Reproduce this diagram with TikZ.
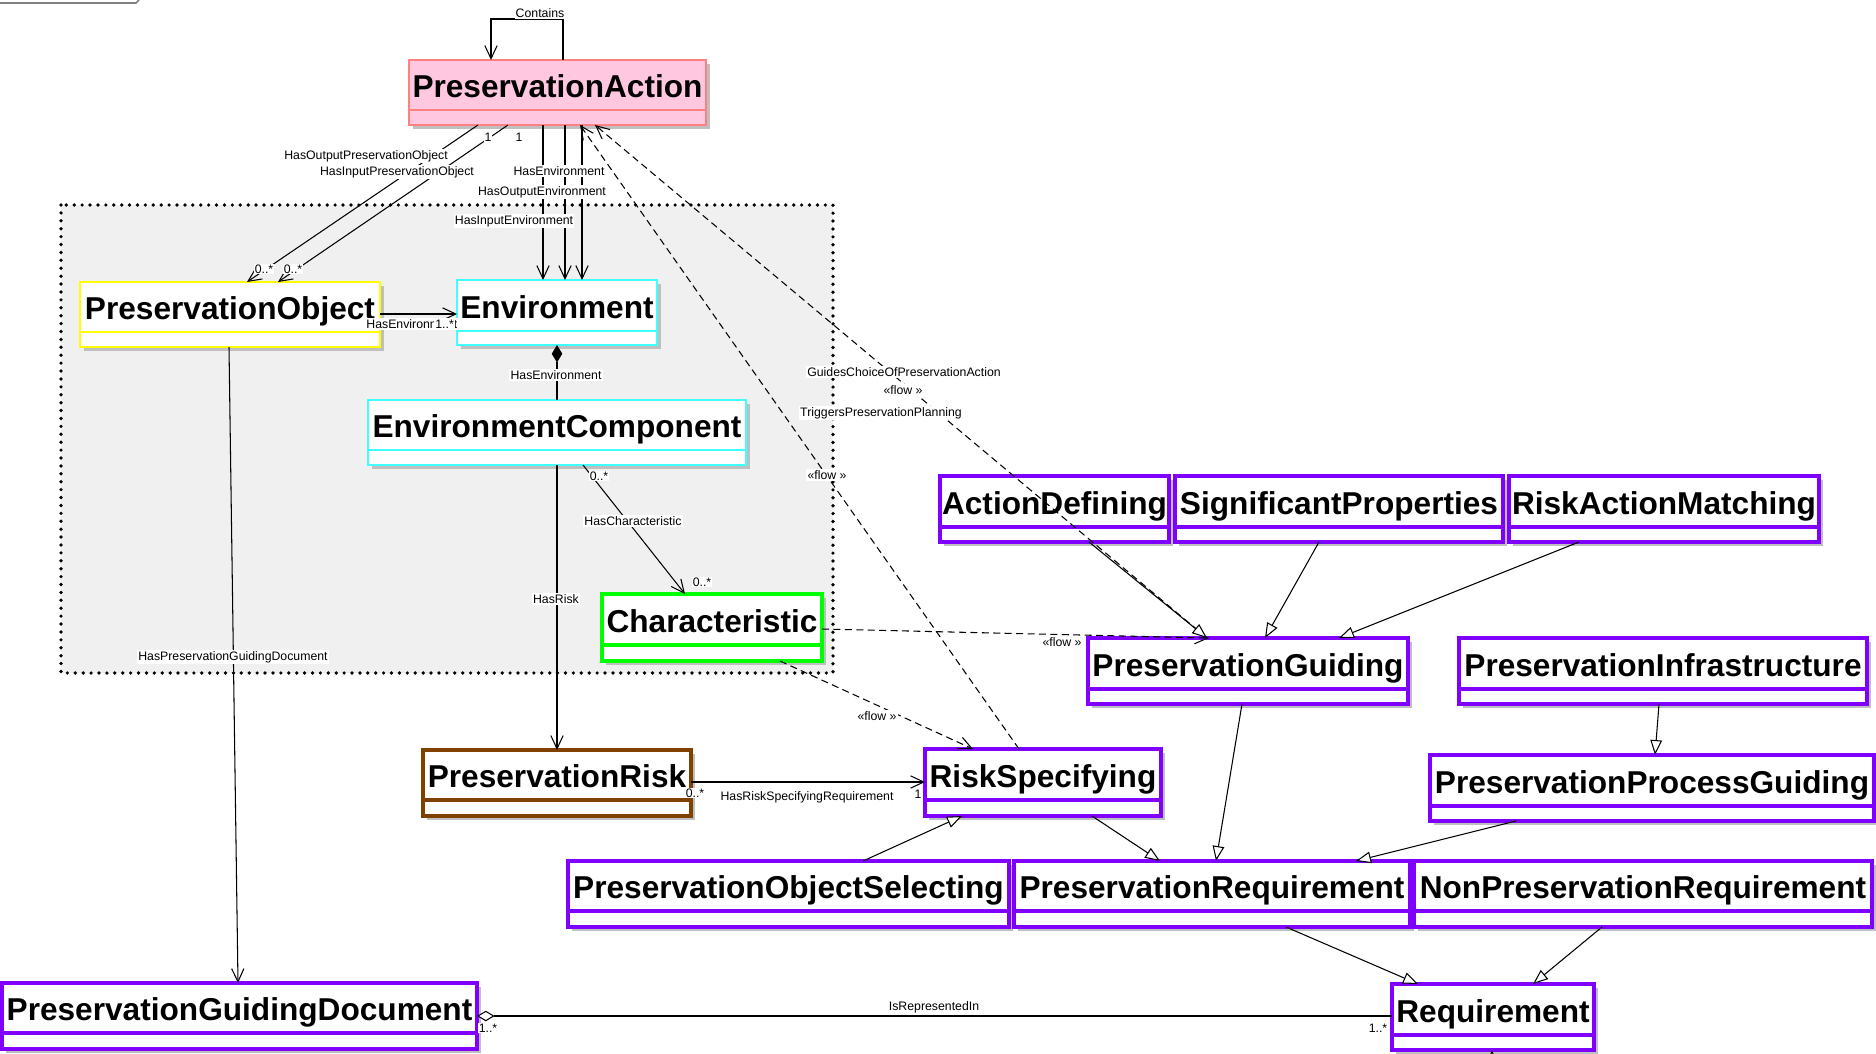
\documentclass[tikz,border=0pt]{standalone}
\usepackage{fontspec}
\setmainfont{Liberation Sans}
\usetikzlibrary{arrows.meta,fit}

\definecolor{actionpink}{RGB}{255,200,224}
\definecolor{actionred}{RGB}{255,128,128}
\definecolor{objyellow}{RGB}{255,255,0}
\definecolor{envcyan}{RGB}{64,255,255}
\definecolor{chargreen}{RGB}{0,255,0}
\definecolor{riskbrown}{RGB}{128,64,0}
\definecolor{reqpurple}{RGB}{128,0,255}
\definecolor{framegray}{RGB}{240,240,240}

\tikzset{
	cls/.style={rectangle, fill=white, inner sep=0pt, outer sep=0pt},
	pinkcls/.style={draw=actionred, fill=actionpink, line width=0.8pt},
	yellowcls/.style={draw=objyellow, line width=1.2pt},
	cyancls/.style={draw=envcyan, line width=1.2pt},
	greencls/.style={draw=chargreen, line width=2.2pt},
	browncls/.style={draw=riskbrown, line width=1.9pt},
	purplecls/.style={draw=reqpurple, line width=1.9pt},
	clsname/.style={font=\fontsize{18}{20}\selectfont\bfseries, anchor=base, inner sep=0pt},
	lbl/.style={font=\fontsize{7}{8}\selectfont, fill=white, inner sep=0.6pt},
	assoc/.style={line width=0.6pt, -{Straight Barb[length=7.5pt,width=7pt]}},
	flow/.style={assoc, dash pattern=on 4pt off 2.5pt},
	gen/.style={line width=0.6pt, -{Triangle[open, fill=white, length=8.5pt, width=6.6pt]}},
	comp/.style={line width=0.6pt, {Diamond[length=10pt, width=6pt]}-},
	aggr/.style={line width=0.6pt, {Diamond[open, fill=white, length=10pt, width=6pt]}-}
}

\newcommand{\umlclass}[8]{%
	\fill[black!25] (#3+4,#4+4) rectangle (#5+4,#6+4);
	\node[cls, #2, fit={(#3,#4) (#5,#6)}] (#1) {};
	\draw[#2] (#3,#7) -- (#5,#7);
	\node[clsname] (#1name) at ({(#3+#5)/2},#7-12.5) {#8};
}

\begin{document}
\begin{tikzpicture}[x=0.02cm, y=-0.02cm]
	\fill[white] (0,0) rectangle (1876,1054);
	\useasboundingbox (0,0) rectangle (1876,1054);
	\draw[gray, line width=1pt] (0,3) -- (136,3) -- (139,0);
	\fill[framegray] (61,205) rectangle (833,673);
	\draw[line width=2.1pt, line cap=round, dash pattern=on 0pt off 4.5pt] (61,205) rectangle (833,673);

	\umlclass{pa}{pinkcls}{409}{60}{706}{125}{110}{PreservationAction}
	\umlclass{po}{yellowcls}{80}{282}{380}{347}{332}{PreservationObject}
	\umlclass{env}{cyancls}{457}{280}{657}{345}{331}{Environment}
	\umlclass{ec}{cyancls}{368}{400}{746}{465}{450}{EnvironmentComponent}
	\umlclass{ch}{greencls}{602}{594}{822}{661}{645}{Characteristic}
	\umlclass{risk}{browncls}{423}{750}{691}{816}{800}{PreservationRisk}
	\umlclass{rs}{purplecls}{925}{749}{1161}{816}{800}{RiskSpecifying}
	\umlclass{pos}{purplecls}{568}{861}{1009}{927}{911}{PreservationObjectSelecting}
	\umlclass{preq}{purplecls}{1014}{861}{1410}{927}{911}{PreservationRequirement}
	\umlclass{npreq}{purplecls}{1414}{861}{1872}{927}{911}{NonPreservationRequirement}
	\umlclass{ad}{purplecls}{940}{476}{1169}{542}{527}{ActionDefining}
	\umlclass{sp}{purplecls}{1175}{476}{1503}{542}{527}{SignificantProperties}
	\umlclass{ram}{purplecls}{1509}{476}{1819}{542}{527}{RiskActionMatching}
	\umlclass{pg}{purplecls}{1088}{638}{1408}{704}{689}{PreservationGuiding}
	\umlclass{pinf}{purplecls}{1459}{638}{1867}{704}{689}{PreservationInfrastructure}
	\umlclass{ppg}{purplecls}{1430}{755}{1874}{821}{806}{PreservationProcessGuiding}
	\umlclass{pgd}{purplecls}{2}{983}{477}{1049}{1033}{PreservationGuidingDocument}
	\umlclass{req}{purplecls}{1392}{984}{1594}{1050}{1035}{Requirement}
	\coordinate (offpage) at (1492,1080);

	\draw[assoc] (pa.north -| 563,0) |- (491,19) -- (pa.north -| 491,0);
	\draw[assoc] (pa.south -| 478,0) -- (po.north -| 247,0);
	\draw[assoc] (pa.south -| 508,0) -- (po.north -| 278,0);
	\draw[assoc] (pa.south -| 543,0) -- (env.north -| 543,0);
	\draw[assoc] (pa.south -| 565,0) -- (env.north -| 565,0);
	\draw[assoc] (pa.south -| 582,0) -- (env.north -| 582,0);
	\draw[assoc] (po.east |- 0,314) -- (env.west |- 0,314);
	\draw[comp] (env.south) -- (ec.north);
	\draw[assoc] (ec.south) -- (risk.north);
	\draw[assoc] (ec.south -| 583,0) -- (ch.north -| 685,0);
	\draw[assoc] (po.south -| 229,0) -- (pgd.north -| 238,0);
	\draw[assoc] (risk.east |- 0,782) -- (rs.west |- 0,782);
	\draw[aggr] (pgd.east |- 0,1016) -- (req.west |- 0,1016);

	\draw[flow] (rs.north -| 1019,0) -- (pa.south -| 580,0);
	\draw[flow] (pg.north -| 1207,0) -- (pa.south -| 595,0);
	\draw[flow] (ch.east |- 0,629) -- (pg.north -| 1209,0);
	\draw[flow] (ch.south -| 780,0) -- (rs.north -| 973,0);

	\draw[gen] (ad.south -| 1089,0) -- (pg.north -| 1207,0);
	\draw[gen] (sp.south -| 1319,0) -- (pg.north -| 1265,0);
	\draw[gen] (ram.south -| 1579,0) -- (pg.north -| 1339,0);
	\draw[gen] (pg.south -| 1242,0) -- (preq.north -| 1216,0);
	\draw[gen] (pinf.south -| 1659,0) -- (ppg.north -| 1655,0);
	\draw[gen] (ppg.south -| 1516,0) -- (preq.north -| 1356,0);
	\draw[gen] (rs.south -| 1092,0) -- (preq.north -| 1160,0);
	\draw[gen] (pos.north -| 863,0) -- (rs.south -| 962,0);
	\draw[gen] (preq.south -| 1286,0) -- (req.north -| 1418,0);
	\draw[gen] (npreq.south -| 1602,0) -- (req.north -| 1533,0);
	\draw[gen] (offpage) -- (req.south -| 1492,0);

	\node[lbl] (contains) at (540,13) {Contains};
	\node[lbl] (hasoutpo) at (366,156) {HasOutputPreservationObject};
	\node[lbl] (hasinpo) at (397,172) {HasInputPreservationObject};
	\node[lbl] (mpa1) at (488,137) {1};
	\node[lbl] (mpa2) at (519,137) {1};
	\node[lbl] (mpo1) at (264,269) {0..*};
	\node[lbl] (mpo2) at (293,269) {0..*};
	\node[lbl] (hasenv) at (559,171) {HasEnvironment};
	\node[lbl] (hasoutenv) at (542,192) {HasOutputEnvironment};
	\node[lbl] (hasinenv) at (514,221) {HasInputEnvironment};
	\node[lbl, anchor=west] (poenv) at (365,324) {HasEnvironment};
	\node[lbl, anchor=west] (mpoenv) at (434,324) {1..*};
	\node[lbl] (compenv) at (556,375) {HasEnvironment};
	\node[lbl] (hasrisk) at (556,599) {HasRisk};
	\node[lbl] (mch1) at (599,476) {0..*};
	\node[lbl] (hasch) at (633,521) {HasCharacteristic};
	\node[lbl] (mch2) at (702,582) {0..*};
	\node[lbl] (haspgd) at (233,657) {HasPreservationGuidingDocument};
	\node[lbl] (mrisk) at (695,793) {0..*};
	\node[lbl] (hasrs) at (807,797) {HasRiskSpecifyingRequirement};
	\node[lbl] (mrs) at (918,794) {1};
	\node[lbl] (mpgd) at (488,1028) {1..*};
	\node[lbl] (isrep) at (934,1007) {IsRepresentedIn};
	\node[lbl] (mreq) at (1378,1028) {1..*};
	\node[lbl] (guides) at (904,372) {GuidesChoiceOfPreservationAction};
	\node[lbl] (flowa) at (903,390) {«flow »};
	\node[lbl] (triggers) at (881,413) {TriggersPreservationPlanning};
	\node[lbl] (flowb) at (827,475) {«flow »};
	\node[lbl] (flowc) at (1062,642) {«flow »};
	\node[lbl] (flowd) at (877,716) {«flow »};
\end{tikzpicture}
\end{document}
